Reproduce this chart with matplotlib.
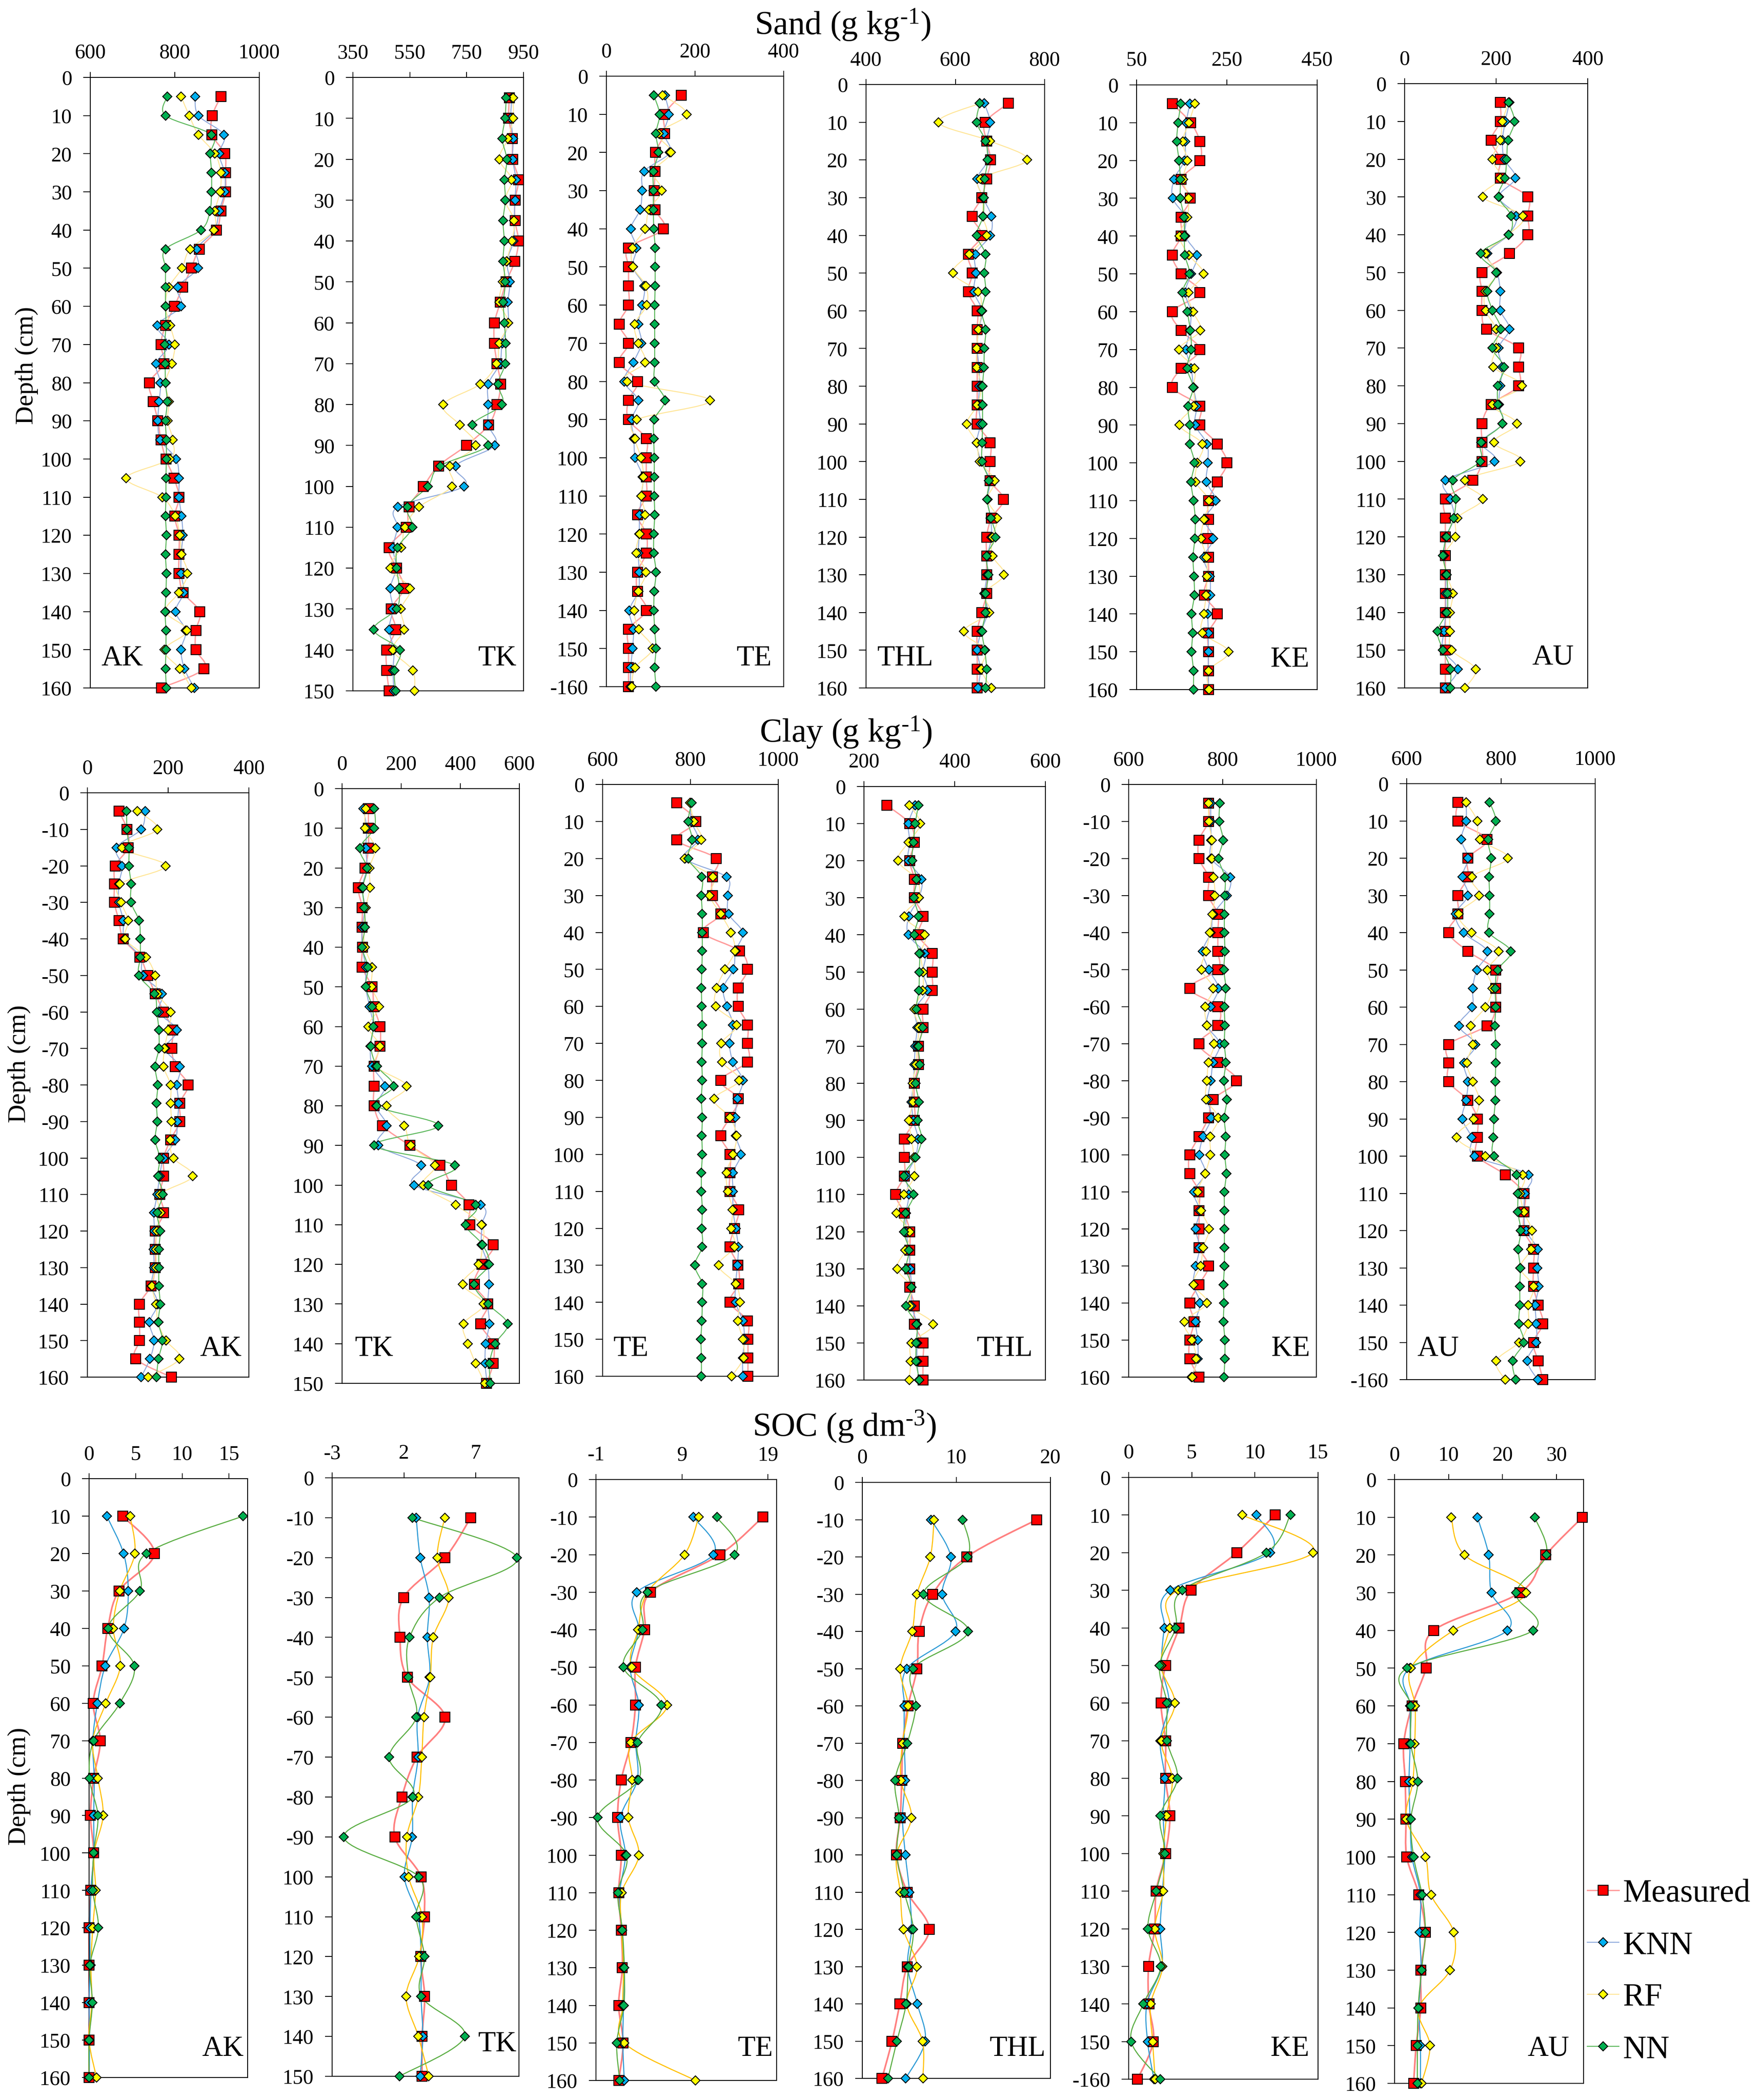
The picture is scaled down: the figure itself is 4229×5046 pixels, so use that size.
import matplotlib
matplotlib.use("Agg")
import matplotlib.pyplot as plt
from matplotlib.path import Path
from matplotlib.patches import PathPatch
from matplotlib.lines import Line2D

plt.rcParams['font.family'] = ['Liberation Serif', 'DejaVu Serif']
plt.rcParams['mathtext.fontset'] = 'custom'
plt.rcParams['mathtext.rm'] = 'Liberation Serif'
plt.rcParams['mathtext.default'] = 'rm'

W, H = 4229, 5046
DPI = 100

# ---------- depths ----------
DEPTH_5 = list(range(5, 165, 5))
DEPTH_5_TK = list(range(5, 155, 5))
DEPTH_10 = list(range(10, 170, 10))
DEPTH_10_TK = list(range(10, 160, 10))

# ---------- Sand ----------
SAND_AK_M = [909,889,888,918,920,920,909,899,858,839,819,799,778,767,774,740,749,760,767,779,798,810,800,810,810,810,820,859,850,850,869,768]
SAND_AK_K = [848,856,916,905,918,918,905,894,852,855,807,815,759,786,756,766,763,760,766,803,810,810,816,819,815,815,821,802,826,815,823,846]
SAND_AK_R = [815,834,856,895,909,907,895,893,836,817,786,778,789,800,793,778,786,783,795,788,685,770,801,812,816,830,810,778,829,775,812,839]
SAND_AK_N = [782,778,887,884,887,887,883,862,778,778,778,778,779,776,777,778,782,778,780,780,779,779,778,780,778,780,779,777,779,779,778,780]

SAND_TK_M = [900,898,911,912,932,920,920,932,919,889,868,848,847,857,869,857,827,749,651,598,547,538,477,503,529,485,500,469,469,477]
SAND_TK_K = [909,905,913,912,923,920,917,915,892,902,895,896,875,866,826,826,826,849,711,740,508,507,491,502,481,490,477,494,491,494]
SAND_TK_R = [913,913,895,865,908,886,917,909,890,877,865,896,865,855,798,668,726,781,691,699,583,533,520,481,551,519,530,491,560,567]
SAND_TK_N = [889,885,875,891,883,886,878,882,878,886,879,883,887,886,860,874,770,825,657,614,541,559,507,504,513,503,423,515,496,500]

SAND_TE_M = [169,131,131,111,110,108,110,129,50,50,50,50,29,50,29,70,50,50,90,90,90,90,70,90,90,70,70,90,50,50,50,50]
SAND_TE_K = [132,141,130,143,85,81,76,55,68,60,85,81,72,79,61,40,72,57,62,65,82,79,75,74,72,74,72,52,61,59,55,54]
SAND_TE_R = [127,181,118,146,106,125,96,87,59,60,89,91,64,72,87,47,234,69,65,78,84,79,87,75,68,89,72,63,73,104,65,57]
SAND_TE_N = [107,120,112,117,106,106,106,107,110,110,110,109,109,109,109,109,132,108,107,108,108,108,109,107,107,112,108,107,109,112,109,112]

SAND_THL_M = [719,667,670,679,670,659,638,659,629,638,629,649,649,649,649,649,649,649,678,678,678,708,681,670,670,670,670,659,649,649,649,649]
SAND_THL_K = [665,678,670,673,649,662,681,678,645,646,642,660,652,649,653,654,652,656,648,658,677,672,679,681,672,671,666,672,658,649,656,651]
SAND_THL_R = [655,562,678,761,656,662,662,670,631,595,651,658,652,648,648,658,649,626,648,655,688,672,694,683,683,709,665,676,619,667,658,681]
SAND_THL_N = [655,648,668,672,666,664,662,648,668,665,668,659,668,665,664,661,661,661,660,660,675,671,680,690,670,674,668,668,660,666,670,668]

SAND_KE_M = [129,170,190,190,149,169,149,149,129,149,190,129,149,190,149,129,190,190,229,250,229,209,209,208,209,209,200,229,209,209,209,209]
SAND_KE_K = [168,160,158,156,133,130,158,158,184,171,158,170,168,160,171,176,183,180,206,208,205,225,201,220,199,212,213,208,209,209,209,209]
SAND_KE_R = [179,166,152,162,153,165,162,145,166,198,165,175,191,144,178,176,176,145,196,185,181,210,199,193,205,206,204,199,196,254,209,210]
SAND_KE_N = [148,142,139,144,147,147,155,156,157,167,151,162,169,171,162,175,164,168,168,178,171,176,180,179,175,177,178,172,174,172,176,176]

SAND_AU_M = [209,209,189,209,209,269,269,269,229,169,169,169,179,249,249,249,189,169,169,169,149,89,89,89,89,89,89,89,89,89,89,89]
SAND_AU_K = [229,220,214,218,242,206,244,227,181,202,209,209,229,205,213,209,206,214,168,196,89,100,108,90,86,90,90,90,86,84,116,89]
SAND_AU_R = [227,214,209,192,209,171,258,227,177,202,176,177,200,200,194,256,192,245,195,253,132,171,115,111,86,92,105,99,99,103,155,132]
SAND_AU_N = [227,240,226,223,219,205,233,227,166,200,181,192,210,192,217,204,204,214,167,165,105,112,107,92,84,92,94,92,72,84,100,100]

# ---------- Clay ----------
CLAY_AK_M = [78,98,101,69,67,67,78,89,130,149,168,189,211,209,218,249,229,229,206,189,189,179,189,168,168,168,158,129,129,129,120,208]
CLAY_AK_K = [143,133,72,86,78,78,89,92,131,138,185,177,222,193,229,222,226,223,218,189,179,173,165,166,164,165,159,174,154,165,155,133]
CLAY_AK_R = [124,173,86,194,80,84,101,94,145,168,174,206,200,191,189,206,206,208,205,213,261,179,181,172,170,170,160,170,175,195,228,150]
CLAY_AK_N = [97,98,103,103,108,108,128,131,131,128,166,172,177,177,168,174,171,173,168,179,175,187,173,180,177,177,177,180,176,186,176,171]

CLAY_TK_M = [89,89,89,78,55,68,67,69,68,101,108,128,128,108,108,108,137,229,331,370,430,433,511,473,448,493,469,511,511,489]
CLAY_TK_K = [72,83,80,84,68,77,68,68,80,80,93,106,96,102,145,116,151,123,267,243,469,473,472,493,497,493,498,486,484,491]
CLAY_TK_R = [80,78,112,93,94,80,74,77,101,100,125,89,128,114,219,150,210,233,314,275,384,472,475,462,408,479,411,426,452,483]
CLAY_TK_N = [109,109,60,84,70,75,78,68,87,80,102,106,97,118,174,117,326,109,381,291,452,418,475,497,447,494,560,518,499,502]

CLAY_TE_M = [769,812,769,859,850,850,869,829,912,930,909,909,930,930,930,869,909,890,869,890,890,890,910,900,890,908,910,890,930,931,931,931]
CLAY_TE_K = [800,802,817,788,882,885,887,919,903,898,875,883,897,889,897,919,907,902,903,915,897,897,897,903,909,907,903,903,919,923,919,919]
CLAY_TE_R = [799,808,825,787,851,844,869,892,901,879,860,858,905,870,872,911,854,890,905,897,882,885,896,893,900,864,903,913,908,919,921,894]
CLAY_TE_N = [803,795,804,795,826,825,827,827,827,826,825,826,827,827,826,827,825,827,826,827,825,825,827,826,827,810,827,827,826,824,825,825]

CLAY_THL_M = [250,301,311,301,311,311,330,320,350,350,350,330,330,320,320,311,311,311,289,289,289,270,289,301,301,301,301,311,311,330,330,330]
CLAY_THL_K = [313,298,301,298,327,321,299,298,334,330,339,313,317,313,311,309,305,309,319,313,294,299,293,293,299,302,305,305,317,317,317,321]
CLAY_THL_R = [300,324,298,275,316,321,289,334,325,330,329,311,321,317,315,307,308,299,305,310,311,288,272,301,291,273,305,301,352,305,303,300]
CLAY_THL_N = [320,313,309,306,316,310,320,311,322,322,321,316,329,320,323,314,321,318,327,314,288,309,292,288,299,293,305,293,316,315,315,322]

CLAY_KE_M = [770,770,750,750,770,770,790,790,790,790,730,790,790,750,790,830,780,770,750,730,730,750,750,750,750,770,750,730,739,730,730,750]
CLAY_KE_K = [775,775,776,776,816,809,781,775,758,771,791,775,767,794,780,775,769,776,759,751,763,739,751,743,751,743,738,752,743,747,747,734]
CLAY_KE_R = [770,771,777,777,781,784,778,773,765,755,780,763,767,782,770,767,765,791,774,774,763,747,754,771,759,753,738,767,719,735,744,736]
CLAY_KE_N = [794,793,801,792,805,805,804,804,805,803,807,804,805,804,807,803,809,804,807,805,808,804,804,804,804,804,802,803,802,805,805,803]

CLAY_AU_M = [709,709,770,730,730,709,709,689,730,789,789,789,770,689,689,689,730,750,750,750,809,849,849,849,869,869,869,879,889,869,879,889]
CLAY_AU_K = [726,726,716,730,718,730,704,721,771,749,740,739,711,746,722,730,726,718,738,744,859,851,849,853,878,877,880,873,875,875,856,878]
CLAY_AU_R = [726,750,755,815,739,754,710,738,795,771,782,767,736,740,728,740,754,742,706,767,846,841,849,866,864,841,869,858,858,838,790,809]
CLAY_AU_N = [776,789,773,779,775,776,776,775,821,793,788,789,787,789,789,788,788,785,784,785,833,836,836,842,837,841,840,840,838,848,825,831]

# ---------- SOC ----------
SOC_AK_M = [3.6,7.0,3.2,2.0,1.4,0.45,1.2,0.5,0.15,0.5,0.2,0,0,0,0,0]
SOC_AK_K = [1.9,3.7,4.2,3.75,1.75,0.9,0.4,0.55,0.5,0.5,0.2,0.1,0.1,0,0.05,0]
SOC_AK_R = [4.4,4.9,3.3,2.6,3.35,1.8,0.4,0.95,1.5,0.55,0.7,0.4,0.2,0.3,0,0.8]
SOC_AK_N = [16.5,6.15,5.45,2.05,4.85,3.3,0.5,0.05,0.95,0.5,0.4,1.0,0.1,0.35,0,0]

SOC_TK_M = [6.64,4.86,1.97,1.72,2.23,4.86,2.9,1.85,1.36,3.19,3.42,3.16,3.44,3.26,3.26]
SOC_TK_K = [2.85,3.13,3.75,3.62,3.78,2.95,2.98,2.6,2.57,2.03,2.98,3.19,3.19,3.31,3.13]
SOC_TK_R = [4.84,4.32,5.12,4.04,3.83,3.39,3.24,3.0,2.2,2.33,3.26,3.06,2.15,3.0,3.73]
SOC_TK_N = [2.6,9.86,4.47,2.39,2.31,2.85,0.97,2.62,-2.18,3.03,2.85,3.42,3.21,6.23,1.69]

SOC_TE_M = [18.4,13.4,5.36,4.67,3.59,3.59,3.07,1.94,1.51,1.94,1.64,1.94,2.07,1.64,2.16,1.64]
SOC_TE_K = [10.34,12.64,3.76,3.94,2.98,3.98,3.63,3.8,1.86,2.42,1.77,1.99,2.2,2.2,2.12,2.29]
SOC_TE_R = [10.95,9.3,5.0,3.89,3.16,7.27,3.07,3.2,2.77,3.98,1.99,1.99,2.2,2.12,2.29,10.56]
SOC_TE_N = [13.07,15.1,5.02,4.41,2.2,6.62,3.85,3.94,-0.83,2.55,1.55,2.07,2.29,2.25,1.42,1.77]

SOC_THL_M = [18.54,11.1,7.47,6.05,5.81,4.86,4.31,4.19,4.03,3.64,4.78,7.11,4.78,3.99,3.16,2.09]
SOC_THL_K = [7.31,9.41,8.5,9.92,4.74,4.47,4.47,4.55,4.27,4.58,5.02,5.22,4.82,5.85,6.68,4.62]
SOC_THL_R = [7.63,7.23,5.81,5.3,4.03,4.86,4.27,4.11,5.22,3.64,4.03,4.39,5.81,4.74,6.4,6.44]
SOC_THL_N = [10.67,11.19,6.52,11.26,5.38,5.69,4.78,3.48,3.91,3.68,4.47,5.42,4.9,4.66,3.68,2.73]

SOC_KE_M = [11.59,8.56,4.95,4.0,2.92,2.56,2.92,2.92,3.27,2.92,2.18,2.06,1.58,1.6,1.95,0.7]
SOC_KE_K = [10.13,11.2,3.29,2.82,2.62,3.2,2.5,2.86,2.74,2.86,2.68,2.5,2.62,1.45,1.5,2.0]
SOC_KE_R = [9.0,14.59,3.92,3.25,2.56,3.66,2.59,3.45,3.01,2.74,2.74,2.07,2.68,1.75,1.9,2.1]
SOC_KE_N = [12.81,10.91,4.24,3.73,2.45,3.02,3.04,3.86,2.5,2.86,2.19,1.53,2.53,1.16,0.2,2.5]

SOC_AU_M = [34.8,28,23.2,7.24,5.84,3.23,1.69,1.97,2.11,2.25,4.5,5.7,4.85,4.85,4.0,3.52]
SOC_AU_K = [15.33,17.44,17.93,20.89,2.88,2.88,2.88,2.67,2.88,3.23,4.78,4.64,4.92,4.5,4.78,4.78]
SOC_AU_R = [10.48,12.94,24.33,10.9,3.02,3.8,3.73,3.38,2.18,5.7,6.75,10.97,10.27,4.5,6.54,4.99]
SOC_AU_N = [25.95,28.13,22.5,25.67,2.32,3.02,3.02,4.29,3.02,3.52,5.06,5.7,4.99,4.36,4.22,4.22]

LEGEND_LABELS = ['Measured', 'KNN', 'RF', 'NN']
ROW_TITLES = ['Sand (g kg$^{\u20101}$)', 'Clay (g kg$^{\u20101}$)', 'SOC (g dm$^{\u20103}$)']

# ---------- style ----------
PX = 72 / DPI
FACE = ['#FF0000', '#00B0F0', '#FFFF00', '#00B050']
MARK = ['s', 'D', 'D', 'D']
MS = [24 * PX, 15.5 * PX, 15.5 * PX, 15.5 * PX]
LIGHT = ['#FF9C9C', '#8FAADC', '#FFE699', '#5CB85C']
LIGHT_W = [3.2 * PX, 2.4 * PX, 2.4 * PX, 2.4 * PX]
STRONG = ['#FF8080', '#2E9BD6', '#FFC000', '#5BAE44']
STRONG_W = [4 * PX, 2.6 * PX, 2.6 * PX, 2.6 * PX]
TICK_FS = 36
LABEL_FS = 44.5
PANEL_FS = 50
TITLE_FS = 58

fig = plt.figure(figsize=(W / DPI, H / DPI), dpi=DPI, facecolor='white')


def smooth_path(xs, ys):
    """Cubic Bezier through the points, like a spreadsheet's smoothed line."""
    pts = list(zip(xs, ys))
    n = len(pts)
    verts = [pts[0]]
    codes = [Path.MOVETO]
    for i in range(n - 1):
        p0 = pts[max(i - 1, 0)]
        p1 = pts[i]
        p2 = pts[i + 1]
        p3 = pts[min(i + 2, n - 1)]
        verts.append((p1[0] + (p2[0] - p0[0]) / 6, p1[1] + (p2[1] - p0[1]) / 6))
        verts.append((p2[0] - (p3[0] - p1[0]) / 6, p2[1] - (p3[1] - p1[1]) / 6))
        verts.append(p2)
        codes += [Path.CURVE4] * 3
    return Path(verts, codes)


def panel(box, xlim, xticks, depths, series, name, name_xy, colors, widths, hyphen=()):
    left, right, top, bottom = box
    ax = fig.add_axes([left / W, 1 - bottom / H, (right - left) / W, (bottom - top) / H])
    ymax = max(depths)
    ax.set_xlim(*xlim)
    ax.set_ylim(ymax, 0)
    ax.xaxis.tick_top()
    ax.set_xticks(xticks)
    ax.set_xticklabels([str(t) for t in xticks])
    yt = list(range(0, ymax + 1, 10))
    ax.set_yticks(yt)
    ax.set_yticklabels([('-%d' % t) if t in hyphen else str(t) for t in yt])
    ax.tick_params(axis='x', length=13 * PX, width=2 * PX, pad=22 * PX, labelsize=TICK_FS)
    ax.tick_params(axis='y', length=17 * PX, width=2 * PX, pad=27 * PX, labelsize=TICK_FS)
    for s in ax.spines.values():
        s.set_linewidth(2.2 * PX)
    for i, vals in enumerate(series):
        ax.add_patch(PathPatch(smooth_path(vals, depths), facecolor='none',
                               edgecolor=colors[i], linewidth=widths[i], clip_on=False, zorder=2 + i))
    for i, vals in enumerate(series):
        ax.plot(vals, depths, linestyle='none', marker=MARK[i], markersize=MS[i],
                markerfacecolor=FACE[i], markeredgecolor='black',
                markeredgewidth=2.2 * PX, clip_on=False, zorder=10 + i)
    fig.text(name_xy[0] / W, 1 - name_xy[1] / H, name, ha='center', va='center', fontsize=PANEL_FS)
    return ax


H1_90 = (10, 20, 30, 40, 50, 60, 70, 80, 90)
D5, D5T, D10, D10T = DEPTH_5, DEPTH_5_TK, DEPTH_10, DEPTH_10_TK

# Sand row
panel((217, 623, 186, 1653), (600, 1000), [600, 800, 1000], D5, [SAND_AK_M, SAND_AK_K, SAND_AK_R, SAND_AK_N], 'AK', (294, 1582), LIGHT, LIGHT_W)
panel((848, 1258, 186, 1660), (350, 950), [350, 550, 750, 950], D5T, [SAND_TK_M, SAND_TK_K, SAND_TK_R, SAND_TK_N], 'TK', (1195, 1582), LIGHT, LIGHT_W)
panel((1457, 1883, 183, 1650), (0, 400), [0, 200, 400], D5, [SAND_TE_M, SAND_TE_K, SAND_TE_R, SAND_TE_N], 'TE', (1812, 1582), LIGHT, LIGHT_W, hyphen=(160,))
panel((2081, 2510, 203, 1653), (400, 800), [400, 600, 800], D5, [SAND_THL_M, SAND_THL_K, SAND_THL_R, SAND_THL_N], 'THL', (2175, 1582), LIGHT, LIGHT_W)
panel((2731, 3165, 204, 1657), (50, 450), [50, 250, 450], D5, [SAND_KE_M, SAND_KE_K, SAND_KE_R, SAND_KE_N], 'KE', (3099, 1585), LIGHT, LIGHT_W)
panel((3375, 3815, 201, 1653), (0, 400), [0, 200, 400], D5, [SAND_AU_M, SAND_AU_K, SAND_AU_R, SAND_AU_N], 'AU', (3732, 1580), LIGHT, LIGHT_W)

# Clay row
panel((210, 598, 1905, 3309), (0, 400), [0, 200, 400], D5, [CLAY_AK_M, CLAY_AK_K, CLAY_AK_R, CLAY_AK_N], 'AK', (531, 3241), LIGHT, LIGHT_W, hyphen=H1_90)
panel((822, 1248, 1895, 3324), (0, 600), [0, 200, 400, 600], D5T, [CLAY_TK_M, CLAY_TK_K, CLAY_TK_R, CLAY_TK_N], 'TK', (899, 3241), LIGHT, LIGHT_W)
panel((1448, 1870, 1885, 3307), (600, 1000), [600, 800, 1000], D5, [CLAY_TE_M, CLAY_TE_K, CLAY_TE_R, CLAY_TE_N], 'TE', (1516, 3241), LIGHT, LIGHT_W)
panel((2076, 2512, 1890, 3316), (200, 600), [200, 400, 600], D5, [CLAY_THL_M, CLAY_THL_K, CLAY_THL_R, CLAY_THL_N], 'THL', (2414, 3241), LIGHT, LIGHT_W)
panel((2712, 3163, 1885, 3309), (600, 1000), [600, 800, 1000], D5, [CLAY_KE_M, CLAY_KE_K, CLAY_KE_R, CLAY_KE_N], 'KE', (3101, 3241), LIGHT, LIGHT_W, hyphen=H1_90)
panel((3380, 3833, 1883, 3315), (600, 1000), [600, 800, 1000], D5, [CLAY_AU_M, CLAY_AU_K, CLAY_AU_R, CLAY_AU_N], 'AU', (3456, 3241), LIGHT, LIGHT_W, hyphen=(160,))

# SOC row
panel((214, 595, 3553, 4992), (0, 17), [0, 5, 10, 15], D10, [SOC_AK_M, SOC_AK_K, SOC_AK_R, SOC_AK_N], 'AK', (536, 4923), STRONG, STRONG_W)
panel((798, 1247, 3551, 4989), (-3, 10), [-3, 2, 7], D10T, [SOC_TK_M, SOC_TK_K, SOC_TK_R, SOC_TK_N], 'TK', (1195, 4912), STRONG, STRONG_W, hyphen=H1_90)
panel((1432, 1866, 3555, 4999), (-1, 20), [-1, 9, 19], D10, [SOC_TE_M, SOC_TE_K, SOC_TE_R, SOC_TE_N], 'TE', (1815, 4923), STRONG, STRONG_W, hyphen=H1_90)
panel((2072, 2524, 3562, 4994), (0, 20), [0, 10, 20], D10, [SOC_THL_M, SOC_THL_K, SOC_THL_R, SOC_THL_N], 'THL', (2445, 4923), STRONG, STRONG_W, hyphen=H1_90)
panel((2712, 3167, 3550, 4996), (0, 15), [0, 5, 10, 15], D10, [SOC_KE_M, SOC_KE_K, SOC_KE_R, SOC_KE_N], 'KE', (3099, 4923), STRONG, STRONG_W, hyphen=(160,))
panel((3351, 3805, 3555, 5006), (0, 35), [0, 10, 20, 30], D10, [SOC_AU_M, SOC_AU_K, SOC_AU_R, SOC_AU_N], 'AU', (3721, 4923), STRONG, STRONG_W)

# Row titles and depth labels
for title, (tx, ty) in zip(ROW_TITLES, [(2025, 60), (2032, 1760), (2029, 3428)]):
    fig.text(tx / W, 1 - ty / H, title, ha='center', va='center', fontsize=TITLE_FS)
for (lx, ly) in [(64, 878), (46, 2556), (46, 4292)]:
    fig.text(lx / W, 1 - ly / H, 'Depth (cm)', rotation=90, ha='center', va='center', fontsize=LABEL_FS)

# Legend
handles = [Line2D([], [], color=LIGHT[i], linewidth=LIGHT_W[i], marker=MARK[i], markersize=MS[i],
                  markerfacecolor=FACE[i], markeredgecolor='black', markeredgewidth=2.2 * PX)
           for i in range(4)]
fig.legend(handles, LEGEND_LABELS, loc='center left', bbox_to_anchor=(3814 / W, 1 - 4738 / H),
           frameon=False, fontsize=56, handlelength=0.98, handletextpad=0.12,
           labelspacing=0.69, borderpad=0, borderaxespad=0)

fig.savefig('out.png', dpi=DPI, facecolor='white')
